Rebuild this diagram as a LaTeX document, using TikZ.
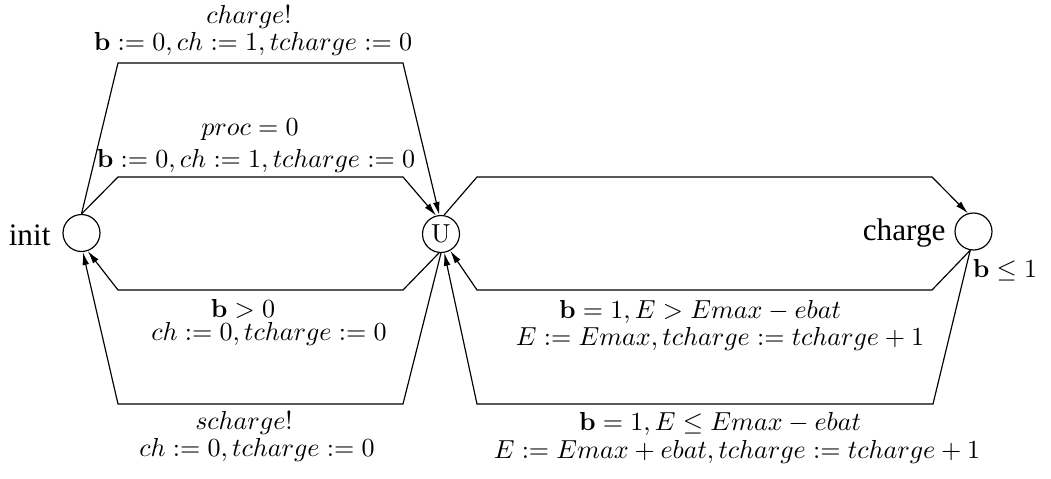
\documentclass[tikz,border=0pt]{standalone}
\usepackage[no-math]{fontspec}
\setmainfont{Liberation Serif}
\usetikzlibrary{arrows.meta}
\begin{document}
\begin{tikzpicture}[x=0.384pt,y=-0.384pt,
  loc/.style={circle,draw,line width=0.45pt,minimum size=14.2pt,inner sep=0pt},
  arr/.style={draw,line width=0.45pt,-{Latex[length=5pt,width=2.6pt]}},
  lbl/.style={inner sep=0pt,font=\fontsize{10}{12}\selectfont},
  locname/.style={inner sep=0pt,font=\fontsize{12}{14}\selectfont}]
\useasboundingbox (0,0) rectangle (1051,478);
% locations
\node[loc] (init) at (81.5,233) {};
\node[loc] (U) at (441,234) {$\mathrm{U}$};
\node[loc] (charge) at (973.5,231.5) {};
\node[locname,anchor=east] (initname) at (51,235) {init};
\node[locname,anchor=east] (chargename) at (946,233) {charge};
% corners
\coordinate (a1) at (118,63);  \coordinate (a2) at (403,63);
\coordinate (b1) at (118,177); \coordinate (b2) at (403,177);
\coordinate (c1) at (118,290); \coordinate (c2) at (403,290);
\coordinate (d1) at (118,404); \coordinate (d2) at (403,404);
\coordinate (e1) at (477,177); \coordinate (e2) at (932,177);
\coordinate (f1) at (477,290); \coordinate (f2) at (932,290);
\coordinate (g1) at (477,404); \coordinate (g2) at (933,404);
% edges
\draw[arr] (init.90) -- (a1) -- (a2) -- (U.95);
\draw[arr] (init.90) -- (b1) -- (b2) -- (U.105);
\draw[arr] (U.-96) -- (c2) -- (c1) -- (init.-71);
\draw[arr] (U.-90) -- (d2) -- (d1) -- (init.-86);
\draw[arr] (U.81) -- (e1) -- (e2) -- (charge.107);
\draw[arr] (charge.-100) -- (f2) -- (f1) -- (U.-61);
\draw[arr] (charge.-100) -- (g2) -- (g1) -- (U.-80);
% labels
\node[lbl] (l1a) at (249,17) {$charge!$};
\node[lbl] (l1b) at (253,44) {$\mathbf{b} := 0, ch := 1, tcharge := 0$};
\node[lbl] (l2a) at (250,130) {$proc = 0$};
\node[lbl] (l2b) at (256,161) {$\mathbf{b} := 0, ch := 1, tcharge := 0$};
\node[lbl] (l3a) at (243,309) {$\mathbf{b} > 0$};
\node[lbl] (l3b) at (269,334) {$ch := 0, tcharge := 0$};
\node[lbl] (l4a) at (244,423) {$scharge!$};
\node[lbl] (l4b) at (257,450) {$ch := 0, tcharge := 0$};
\node[lbl] (l6a) at (700,312) {$\mathbf{b} = 1, E > Emax - ebat$};
\node[lbl] (l6b) at (720,339) {$E := Emax, tcharge := tcharge + 1$};
\node[lbl] (l7a) at (720,424) {$\mathbf{b} = 1, E \leq Emax - ebat$};
\node[lbl] (l7b) at (737,452) {$E := Emax + ebat, tcharge := tcharge + 1$};
\node[lbl] (inv) at (1005,270) {$\mathbf{b} \leq 1$};
\end{tikzpicture}
\end{document}
